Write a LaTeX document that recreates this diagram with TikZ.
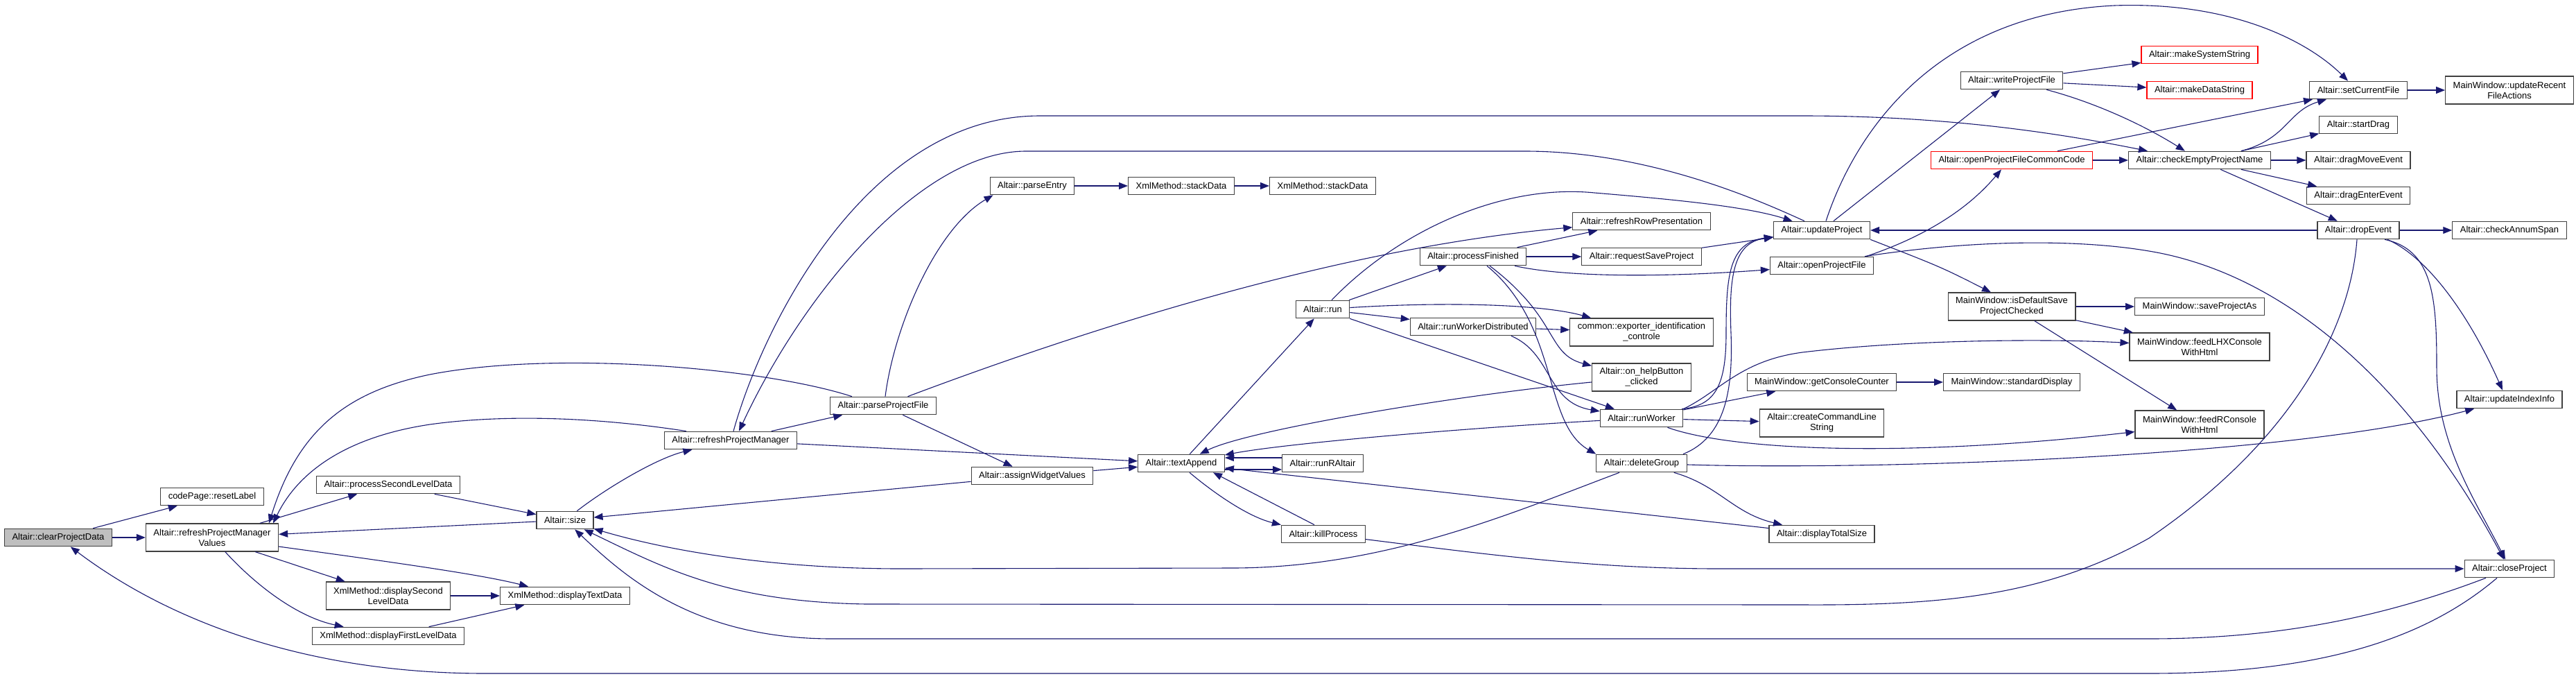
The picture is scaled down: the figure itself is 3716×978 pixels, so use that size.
\documentclass[tikz,border=0pt]{standalone}
\usepackage{fontspec}
\setmainfont{Liberation Sans}
\usepackage{xcolor}
\usetikzlibrary{arrows.meta}
\definecolor{edgeblue}{HTML}{191970}
\definecolor{rootgray}{HTML}{BFBFBF}
\definecolor{framegray}{HTML}{404040}

\begin{document}
\begin{tikzpicture}[
  x=1pt, y=-1pt,
  box/.style={draw=framegray, line width=1.2pt, fill=white, inner xsep=11pt, inner ysep=0pt, minimum height=25.5pt, align=center, font=\fontsize{13}{15}\selectfont},
  box2/.style={box, minimum height=40pt},
  root/.style={box, fill=rootgray},
  lost/.style={box, draw=red},
  arr/.style={draw=edgeblue, line width=1.1pt, -{Triangle[length=13pt, width=10pt]}}
]
  \useasboundingbox (0,0) rectangle (3716,978);

  \node[root] (cpd) at (84,775) {Altair::clearProjectData};
  \node[box] (rl) at (306,716) {codePage::resetLabel};
  \node[box2] (rpmv) at (306,775) {Altair::refreshProjectManager\\Values};
  \node[box] (psld) at (560,699) {Altair::processSecondLevelData};
  \node[box2] (dsld) at (560,859) {XmlMethod::displaySecond\\LevelData};
  \node[box] (dfld) at (560,917) {XmlMethod::displayFirstLevelData};
  \node[box] (dtd) at (815,859) {XmlMethod::displayTextData};
  \node[box] (sz) at (815,750) {Altair::size};
  \node[box] (rpm) at (1054,635) {Altair::refreshProjectManager};
  \node[box] (ppf) at (1274,585) {Altair::parseProjectFile};
  \node[box] (awv) at (1489,686) {Altair::assignWidgetValues};
  \node[box] (pe) at (1489,268) {Altair::parseEntry};
  \node[box] (sd1) at (1704,268) {XmlMethod::stackData};
  \node[box] (sd2) at (1908,268) {XmlMethod::stackData};
  \node[box] (ta) at (1704,668) {Altair::textAppend};
  \node[box] (rra) at (1908,668) {Altair::runRAltair};
  \node[box] (kp) at (1909,770) {Altair::killProcess};
  \node[box] (run) at (1908,446) {Altair::run};
  \node[box] (pf) at (2125,370) {Altair::processFinished};
  \node[box] (rwd) at (2125,471) {Altair::runWorkerDistributed};
  \node[box] (rrp) at (2368,319) {Altair::refreshRowPresentation};
  \node[box] (rsp) at (2368,370) {Altair::requestSaveProject};
  \node[box2] (eic) at (2368,479) {common::exporter\_identification\\\_controle};
  \node[box2] (hbc) at (2368,544) {Altair::on\_helpButton\\\_clicked};
  \node[box] (rw) at (2368,603) {Altair::runWorker};
  \node[box] (dg) at (2368,668) {Altair::deleteGroup};
  \node[box] (up) at (2628,332) {Altair::updateProject};
  \node[box] (opf) at (2628,383) {Altair::openProjectFile};
  \node[box] (gcc) at (2628,551) {MainWindow::getConsoleCounter};
  \node[box2] (ccl) at (2628,610) {Altair::createCommandLine\\String};
  \node[box] (dts) at (2628,770) {Altair::displayTotalSize};
  \node[box] (wpf) at (2902,116) {Altair::writeProjectFile};
  \node[lost] (opfc) at (2902,231) {Altair::openProjectFileCommonCode};
  \node[box2] (ids) at (2902,442) {MainWindow::isDefaultSave\\ProjectChecked};
  \node[box] (std) at (2902,551) {MainWindow::standardDisplay};
  \node[lost] (mss) at (3173,79) {Altair::makeSystemString};
  \node[lost] (mds) at (3173,130) {Altair::makeDataString};
  \node[box] (cepn) at (3173,231) {Altair::checkEmptyProjectName};
  \node[box] (spa) at (3173,442) {MainWindow::saveProjectAs};
  \node[box2] (flhx) at (3173,500) {MainWindow::feedLHXConsole\\WithHtml};
  \node[box2] (frc) at (3173,612) {MainWindow::feedRConsole\\WithHtml};
  \node[box] (scf) at (3402,130) {Altair::setCurrentFile};
  \node[box] (sdr) at (3402,180) {Altair::startDrag};
  \node[box] (dme) at (3402,231) {Altair::dragMoveEvent};
  \node[box] (dee) at (3402,282) {Altair::dragEnterEvent};
  \node[box] (de) at (3402,332) {Altair::dropEvent};
  \node[box2] (urf) at (3620,130) {MainWindow::updateRecent\\FileActions};
  \node[box] (cas) at (3620,332) {Altair::checkAnnumSpan};
  \node[box] (uii) at (3620,576) {Altair::updateIndexInfo};
  \node[box] (cp) at (3620,820) {Altair::closeProject};

  \draw[arr] (cpd) -- (rl);
  \draw[arr] (cpd) -- (rpmv);
  \draw[arr] (rpmv) -- (psld);
  \draw[arr] (rpmv) -- (dsld);
  \draw[arr] (rpmv) .. controls (370,845) and (430,890) .. (dfld);
  \draw[arr] (rpmv) .. controls (600,815) and (700,830) .. (dtd);
  \draw[arr] (dsld) -- (dtd);
  \draw[arr] (dfld) -- (dtd);
  \draw[arr] (psld) -- (sz);
  \draw[arr] (sz) -- (rpmv);
  \draw[arr] (sz) .. controls (880,700) and (950,660) .. (rpm);
  \draw[arr] ([xshift=-45pt]ppf.north) .. controls (1100,530) and (800,505) .. (620,540) .. controls (500,565) and (430,620) .. ([xshift=82pt]rpmv.north);
  \draw[arr] ([xshift=-64pt]rpm.north) .. controls (850,600) and (720,598) .. (620,612) .. controls (500,630) and (430,680) .. ([xshift=88pt]rpmv.north);
  \draw[arr] (rpm) -- (ppf);
  \draw[arr] (rpm) -- (ta);
  \draw[arr] ([xshift=-25pt]up.north) .. controls (2540,290) and (2380,218) .. (2200,218) -- (1480,218) .. controls (1330,218) and (1160,420) .. ([xshift=12pt]rpm.north);
  \draw[arr] ([xshift=4pt]rpm.north) .. controls (1100,470) and (1250,167) .. (1500,167) -- (2600,167) .. controls (2800,167) and (2960,190) .. ([xshift=-75pt]cepn.north);
  \draw[arr] ([xshift=3pt]ppf.north) .. controls (1290,470) and (1350,330) .. ([xshift=5pt]pe.south west);
  \draw[arr] (pe) -- (sd1);
  \draw[arr] (sd1) -- (sd2);
  \draw[arr] (ppf) .. controls (1500,500) and (1900,360) .. (rrp);
  \draw[arr] (ppf) -- (awv);
  \draw[arr] (awv) -- (ta);
  \draw[arr] (awv) -- (sz);

  \draw[arr] (run) -- (pf);
  \draw[arr] (run) .. controls (2100,434) and (2230,440) .. (eic);
  \draw[arr] (run) -- (rwd);
  \draw[arr] (run) -- (rw);
  \draw[arr] ([xshift=13pt]run.north) .. controls (2020,330) and (2170,265) .. (2300,278) .. controls (2420,288) and (2520,298) .. (up);
  \draw[arr] (ta) -- (run);
  \draw[arr] (pf) -- (rrp);
  \draw[arr] (pf) -- (rsp);
  \draw[arr] (pf) .. controls (2260,400) and (2400,400) .. (opf);
  \draw[arr] ([xshift=24pt]pf.south) .. controls (2250,460) and (2230,510) .. ([yshift=-4pt]hbc.north west);
  \draw[arr] ([xshift=20pt]pf.south) .. controls (2250,470) and (2225,610) .. (dg.north west);
  \draw[arr] (rwd) -- (eic);
  \draw[arr] ([xshift=55pt]rwd.south) .. controls (2240,510) and (2230,580) .. (rw);
  \draw[arr] (hbc) .. controls (2100,570) and (1800,620) .. (ta);
  \draw[arr] (rw) .. controls (2100,618) and (1850,640) .. (ta);
  \draw[arr] ([yshift=8pt]rra.west) -- ([yshift=8pt]ta.east);
  \draw[arr] ([yshift=-9pt]ta.east) -- ([yshift=-9pt]rra.west);
  \draw[arr] ([xshift=12pt]ta.south) .. controls (1750,710) and (1800,745) .. (kp.north west);
  \draw[arr] ([xshift=-13pt]kp.north) -- ([xshift=46pt]ta.south);
  \draw[arr] (dts) -- (ta);
  \draw[arr] (kp) .. controls (2150,800) and (2300,820) .. (2480,820) -- (cp);
  \draw[arr] ([xshift=-32pt]dg.south) .. controls (2180,740) and (2000,818) .. (1780,819) -- (1300,820) .. controls (1100,820) and (950,790) .. (sz);
  \draw[arr] ([xshift=-2pt]de.south) .. controls (3390,480) and (3300,640) .. (3100,776) .. controls (2950,860) and (2800,873) .. (2600,872) -- (1250,871) .. controls (1050,868) and (960,820) .. (sz);
  \draw[arr] ([xshift=-34pt]cp.south) .. controls (3450,885) and (3300,921) .. (3100,921) -- (1200,921) .. controls (1000,921) and (900,830) .. (sz);
  \draw[arr] ([xshift=-18pt]cp.south) .. controls (3500,920) and (3350,971) .. (3100,971) -- (700,971) .. controls (450,971) and (250,900) .. (cpd);
  \draw[arr] (dg) .. controls (2480,700) and (2500,740) .. (dts);
  \draw[arr] ([xshift=60pt]dg.north) .. controls (2490,630) and (2500,560) .. (2497,480) .. controls (2494,400) and (2500,350) .. (up);
  \draw[arr] ([xshift=58pt]rw.north) .. controls (2475,585) and (2490,555) .. (2490,480) .. controls (2490,395) and (2495,350) .. (up);
  \draw[arr] (rw) -- (gcc);
  \draw[arr] (rw) -- (ccl);
  \draw[arr] (rw.north east) .. controls (2480,565) and (2510,520) .. (2600,508) .. controls (2750,490) and (2950,488) .. (flhx);
  \draw[arr] (rw) .. controls (2500,650) and (2750,660) .. (frc);
  \draw[arr] (dg) .. controls (2700,678) and (3300,660) .. (uii);
  \draw[arr] (gcc) -- (std);
  \draw[arr] (rsp) -- (up);

  \draw[arr] (up) -- (wpf);
  \draw[arr] ([xshift=6pt]up.north) .. controls (2680,180) and (2800,20) .. (3050,8) .. controls (3220,2) and (3330,60) .. ([xshift=-15pt]scf.north);
  \draw[arr] (up.south east) .. controls (2800,385) .. ([xshift=-30pt]ids.north);
  \draw[arr] ([xshift=64pt]opf.north) .. controls (2780,340) and (2840,300) .. ([xshift=-15pt]opfc.south);
  \draw[arr] ([xshift=62pt]opf.north) .. controls (2850,345) and (3000,345) .. (3100,362) .. controls (3300,395) and (3480,560) .. ([xshift=-8pt]cp.north);
  \draw[arr] (de) -- (up);
  \draw[arr] (de) -- (cas);
  \draw[arr] ([xshift=42pt]de.south) .. controls (3500,370) and (3560,450) .. ([xshift=-10pt]uii.north);
  \draw[arr] ([xshift=38pt]de.south) .. controls (3510,360) and (3515,430) .. (3515,530) .. controls (3515,640) and (3570,720) .. ([xshift=-6pt]cp.north);
  \draw[arr] (wpf) -- (mss);
  \draw[arr] (wpf) -- (mds);
  \draw[arr] (wpf) .. controls (3030,150) and (3100,185) .. (cepn);
  \draw[arr] (opfc) -- (cepn);
  \draw[arr] (opfc) -- (scf);
  \draw[arr] ([xshift=60pt]cepn.north) .. controls (3300,200) and (3300,160) .. ([xshift=-46pt]scf.south);
  \draw[arr] (cepn) -- (sdr);
  \draw[arr] (cepn) -- (dme);
  \draw[arr] (cepn) -- (dee);
  \draw[arr] (cepn) -- (de);
  \draw[arr] (scf) -- (urf);
  \draw[arr] (ids) -- (spa);
  \draw[arr] (ids) -- (flhx);
  \draw[arr] (ids) -- (frc);
\end{tikzpicture}
\end{document}
